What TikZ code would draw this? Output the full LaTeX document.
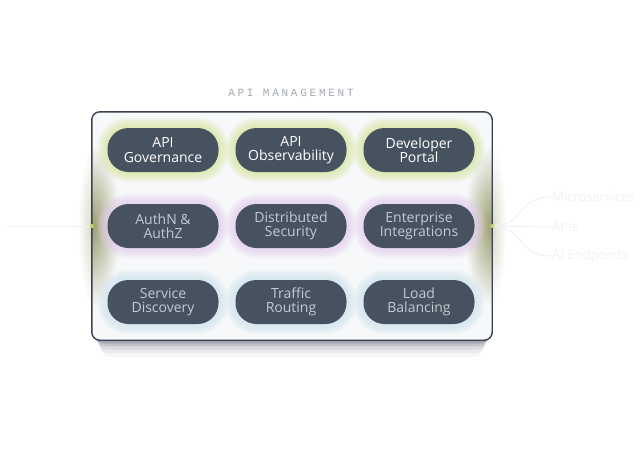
\documentclass[tikz,border=0pt]{standalone}
\usepackage{fontspec}
\setmainfont{Open Sans}
\newfontfamily\monof[LetterSpace=25]{Liberation Mono}
\definecolor{pillfill}{HTML}{46525F}
\definecolor{pilltxt}{HTML}{C3CAD2}
\definecolor{boxfill}{HTML}{F6F8F9}
\definecolor{boxline}{HTML}{3A4352}
\definecolor{shadowc}{HTML}{232A3C}
\definecolor{glowA}{HTML}{D6E49C}
\definecolor{glowB}{HTML}{E2CBEE}
\definecolor{glowC}{HTML}{CBE3EE}
\definecolor{olivein}{HTML}{9A9C6E}
\definecolor{oliveout}{HTML}{D9DACB}
\definecolor{marker}{HTML}{C2D25E}
\definecolor{faint}{HTML}{EEF0F2}
\definecolor{fainttxt}{HTML}{F0F2F4}
\definecolor{titlec}{HTML}{A3A9B0}
\tikzset{
  pill/.style={rectangle, rounded corners=21pt, fill=pillfill, minimum width=111pt,
    minimum height=44pt, align=center, inner sep=0pt,
    font=\fontsize{14}{14.5}\selectfont},
  glowring/.style={rectangle, minimum width=111pt+2*#1, minimum height=44pt+2*#1,
    rounded corners=21pt+#1, inner sep=0pt},
  faintline/.style={draw=faint, line width=0.9pt},
  sidetxt/.style={anchor=west, text=fainttxt, font=\fontsize{13}{15}\selectfont, inner sep=0pt}
}
\newcommand{\glowfor}[3]{% position, color
  \foreach \k in {10,8,6,4,2}{
    \node[glowring=\k pt, fill=#2, fill opacity=0.2] at (#1) {};
  }
}
\begin{document}
\begin{tikzpicture}[x=1pt,y=-1pt]
\useasboundingbox[fill=white] (0,0) rectangle (642,450);
% shadow
\foreach \k/\o in {14/0.04,11/0.06,8/0.08,5/0.12,3/0.18,1/0.25}{
  \fill[shadowc, opacity=\o, rounded corners=10] (92+\k*0.6,118) rectangle (492-\k*0.6,340+\k*1.2);
}
% outside side glows
\shade[inner color=oliveout, outer color=white] (92,226) ellipse (14 and 80);
\shade[inner color=oliveout, outer color=white] (492,226) ellipse (14 and 80);
% box
\node[draw=none, fill=boxfill, rounded corners=8pt, minimum width=400pt, minimum height=228pt, inner sep=0pt] (box) at (292,226) {};
\begin{scope}
  \clip[rounded corners=8pt] (92,112) rectangle (492,340);
  \shade[inner color=olivein, outer color=boxfill] (92,226) ellipse (28 and 80);
  \shade[inner color=olivein, outer color=boxfill] (492,226) ellipse (28 and 80);
\end{scope}
\draw[boxline, line width=1.4pt, rounded corners=8pt] (box.north west) rectangle (box.south east);
% title
\node[text=titlec, font=\monof\fontsize{11}{12}\selectfont] (title) at (291,93) {API MANAGEMENT};
% glows
\glowfor{163,150}{glowA}{}
\glowfor{291,150}{glowA}{}
\glowfor{419,150}{glowA}{}
\glowfor{163,226}{glowB}{}
\glowfor{291,226}{glowB}{}
\glowfor{419,226}{glowB}{}
\glowfor{163,302}{glowC}{}
\glowfor{291,302}{glowC}{}
\glowfor{419,302}{glowC}{}
% pills
\node[pill, text=white] (gov) at (163,150) {API\\Governance};
\node[pill, text=white] (obs) at (291,150) {API\\Observability};
\node[pill, text=white] (dev) at (419,150) {Developer\\Portal};
\node[pill, text=pilltxt] (auth) at (163,226) {AuthN \&\\AuthZ};
\node[pill, text=pilltxt] (dsec) at (291,226) {Distributed\\Security};
\node[pill, text=pilltxt] (ent) at (419,226) {Enterprise\\Integrations};
\node[pill, text=pilltxt] (sd) at (163,302) {Service\\Discovery};
\node[pill, text=pilltxt] (tr) at (291,302) {Traffic\\Routing};
\node[pill, text=pilltxt] (lb) at (419,302) {Load\\Balancing};
% left connector
\coordinate (lend) at (6,226);
\draw[faintline] (lend) -- (box.west);
% right side
\node[sidetxt] (ms) at (552,197) {Microservices};
\node[sidetxt] (apis) at (552,227) {APIs};
\node[sidetxt] (aie) at (552,256) {AI Endpoints};
\draw[faintline] (box.east) .. controls (525,226) and (515,197) .. (ms.west);
\draw[faintline] (box.east) -- (apis.west);
\draw[faintline] (box.east) .. controls (525,226) and (515,256) .. (aie.west);
% markers
\node[circle, fill=marker, inner sep=0pt, minimum size=4pt] (ml) at (box.west) {};
\node[circle, fill=marker, inner sep=0pt, minimum size=4pt] (mr) at (box.east) {};
\end{tikzpicture}
\end{document}
